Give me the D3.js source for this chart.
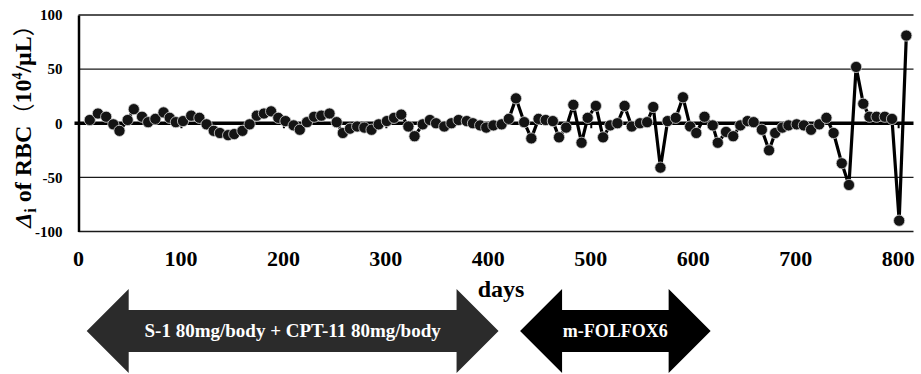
<!DOCTYPE html>
<html>
<head>
<meta charset="utf-8">
<script src="https://cdn.jsdelivr.net/npm/d3@7"></script>
<style>
  body { margin: 0; background: #fff; }
  svg { display: block; font-family: "Liberation Serif", "DejaVu Serif", serif; }
</style>
</head>
<body>
<div id="chart"></div>
<script>
// days since start of treatment
const days = [11, 19, 27, 34, 40, 48, 54, 62, 68, 75, 83, 89, 95, 102, 110, 118, 125, 132, 138, 146,
  152, 160, 167, 174, 181, 188, 195, 202, 210, 216, 223, 230, 237, 245, 252, 258, 265, 272, 279, 286,
  293, 301, 308, 315, 322, 328, 336, 343, 349, 357, 364, 371, 379, 385, 392, 398, 405, 413, 420, 427,
  435, 442, 449, 456, 463, 469, 476, 483, 491, 497, 505, 512, 519, 526, 533, 540, 548, 555, 561, 568,
  575, 583, 590, 597, 603, 611, 619, 624, 632, 639, 646, 653, 659, 667, 674, 680, 687, 693, 701, 708,
  715, 723, 730, 737, 745, 752, 759, 766, 772, 779, 787, 794, 801, 808];

// delta RBC (10^4/uL)
const deltaRBC = [3, 9, 6, -1, -7, 3, 13, 6, 1, 4, 10, 5, 1, 2, 7, 5, -1, -7, -9, -11,
  -10, -7, -1, 7, 9, 11, 5, 2, -2, -6, 1, 6, 7, 9, 1, -9, -5, -3, -4, -6,
  -1, 2, 5, 8, -3, -12, -1, 3, 0, -3, 0, 3, 2, 0, -2, -4, -2, -1, 4, 23,
  1, -14, 4, 3, 2, -13, -4, 17, -18, 5, 16, -13, -2, 0, 16, -3, 0, 1, 15, -41,
  2, 5, 24, -3, -9, 6, -2, -18, -8, -12, -2, 2, 1, -6, -25, -9, -4, -2, -1, -2,
  -6, -1, 5, -9, -37, -57, 52, 18, 6, 6, 6, 4, -90, 81];

const xTicks = [0, 100, 200, 300, 400, 500, 600, 700, 800];
const yTicks = [100, 50, 0, -50, -100];

// treatment periods shown as arrows under the axis
const regimens = ["S-1 80mg/body + CPT-11 80mg/body", "m-FOLFOX6"];
const regimenStart = [8, 431];
const regimenEnd = [410, 617];
const regimenColor = ["#2b2b2b", "#000"];

const data = days.map((d, i) => ({day: d, value: deltaRBC[i]}));

const width = 921, height = 374;

const svg = d3.select("#chart")
  .append("svg")
    .attr("width", width)
    .attr("height", height);

const x = d3.scaleLinear()
  .domain([0, 815])
  .range([78.5, 913.5]);

const y = d3.scaleLinear()
  .domain([-100, 100])
  .range([231.5, 15]);

// horizontal gridlines
svg.append("g")
  .selectAll("line")
  .data(yTicks.filter(t => t != 0))
  .enter()
  .append("line")
    .attr("x1", x(0))
    .attr("x2", x(815))
    .attr("y1", d => y(d))
    .attr("y2", d => y(d))
    .attr("stroke", "#1a1a1a")
    .attr("stroke-width", 1.4);

// y axis
const yAxis = svg.append("g")
  .attr("transform", `translate(${x(0)}, 0)`)
  .call(d3.axisLeft(y).tickValues(yTicks).tickSize(0).tickPadding(16).tickFormat(d => String(d)));
yAxis.select(".domain")
  .attr("stroke", "#000")
  .attr("stroke-width", 2.5);
yAxis.selectAll("text")
  .attr("font-family", "Liberation Serif")
  .attr("font-weight", "bold")
  .attr("font-size", 15)
  .attr("fill", "#000");

// x axis line at zero
const xAxis = svg.append("g")
  .attr("transform", `translate(0, ${y(0)})`)
  .call(d3.axisBottom(x).tickValues(xTicks).tickSize(5).tickFormat(""));
xAxis.select(".domain")
  .attr("stroke", "#000")
  .attr("stroke-width", 3.5)
  .attr("d", `M${x(0) - 4},0H${x(815)}`);
xAxis.selectAll(".tick line")
  .attr("stroke", "#000")
  .attr("stroke-width", 2);

// x tick labels under the plot
svg.append("g")
  .selectAll("text")
  .data(xTicks)
  .enter()
  .append("text")
    .attr("x", d => x(d))
    .attr("y", 266)
    .attr("text-anchor", "middle")
    .attr("font-weight", "bold")
    .attr("font-size", 22)
    .text(d => d);

svg.append("text")
  .attr("x", 501)
  .attr("y", 297)
  .attr("text-anchor", "middle")
  .attr("font-weight", "bold")
  .attr("font-size", 24)
  .text("days");

// y title
const yTitle = svg.append("text")
  .attr("transform", `translate(31, 121) rotate(-90)`)
  .attr("text-anchor", "middle")
  .attr("font-weight", "bold")
  .attr("font-size", 24);
yTitle.append("tspan").attr("font-style", "italic").text("Δ");
yTitle.append("tspan").attr("font-size", 16).attr("dy", 5).text("i");
yTitle.append("tspan").attr("dy", -5).text(" of RBC");
yTitle.append("tspan").attr("font-family", "Noto Sans CJK JP").attr("font-weight", "normal").attr("font-size", 22).text("（");
yTitle.append("tspan").text("10");
yTitle.append("tspan").attr("font-size", 14).attr("dy", -9).text("4");
yTitle.append("tspan").attr("dy", 9).text("/μL");
yTitle.append("tspan").attr("font-family", "Noto Sans CJK JP").attr("font-weight", "normal").attr("font-size", 22).text("）");

// data line
svg.append("path")
  .datum(data)
  .attr("fill", "none")
  .attr("stroke", "#000")
  .attr("stroke-width", 3.2)
  .attr("stroke-linejoin", "round")
  .attr("d", d3.line()
    .x(d => x(d.day))
    .y(d => y(d.value))
  );

svg.selectAll(".point")
  .data(data)
  .enter()
  .append("circle")
    .attr("class", "point")
    .attr("cx", d => x(d.day))
    .attr("cy", d => y(d.value))
    .attr("r", 5.6)
    .attr("fill", "#141414")
    .attr("stroke", "#d8d8d8")
    .attr("stroke-width", 0.8);

// treatment arrows
const cy = 331, head = 42, headH = 42, bodyH = 21;
function arrowPath(x0, x1) {
  return `M${x0},${cy}L${x0 + head},${cy - headH}L${x0 + head},${cy - bodyH}` +
    `L${x1 - head},${cy - bodyH}L${x1 - head},${cy - headH}L${x1},${cy}` +
    `L${x1 - head},${cy + headH}L${x1 - head},${cy + bodyH}L${x0 + head},${cy + bodyH}` +
    `L${x0 + head},${cy + headH}Z`;
}

const arrows = svg.selectAll(".regimen")
  .data(regimens)
  .enter()
  .append("g")
    .attr("class", "regimen");

arrows.append("path")
  .attr("d", (d, i) => arrowPath(x(regimenStart[i]), x(regimenEnd[i])))
  .attr("fill", (d, i) => regimenColor[i]);

arrows.append("text")
  .attr("x", (d, i) => (x(regimenStart[i]) + x(regimenEnd[i])) / 2)
  .attr("y", cy + 6)
  .attr("text-anchor", "middle")
  .attr("font-weight", "bold")
  .attr("font-size", (d, i) => i == 0 ? 19 : 18)
  .attr("fill", "#fff")
  .text(d => d);
</script>
</body>
</html>
